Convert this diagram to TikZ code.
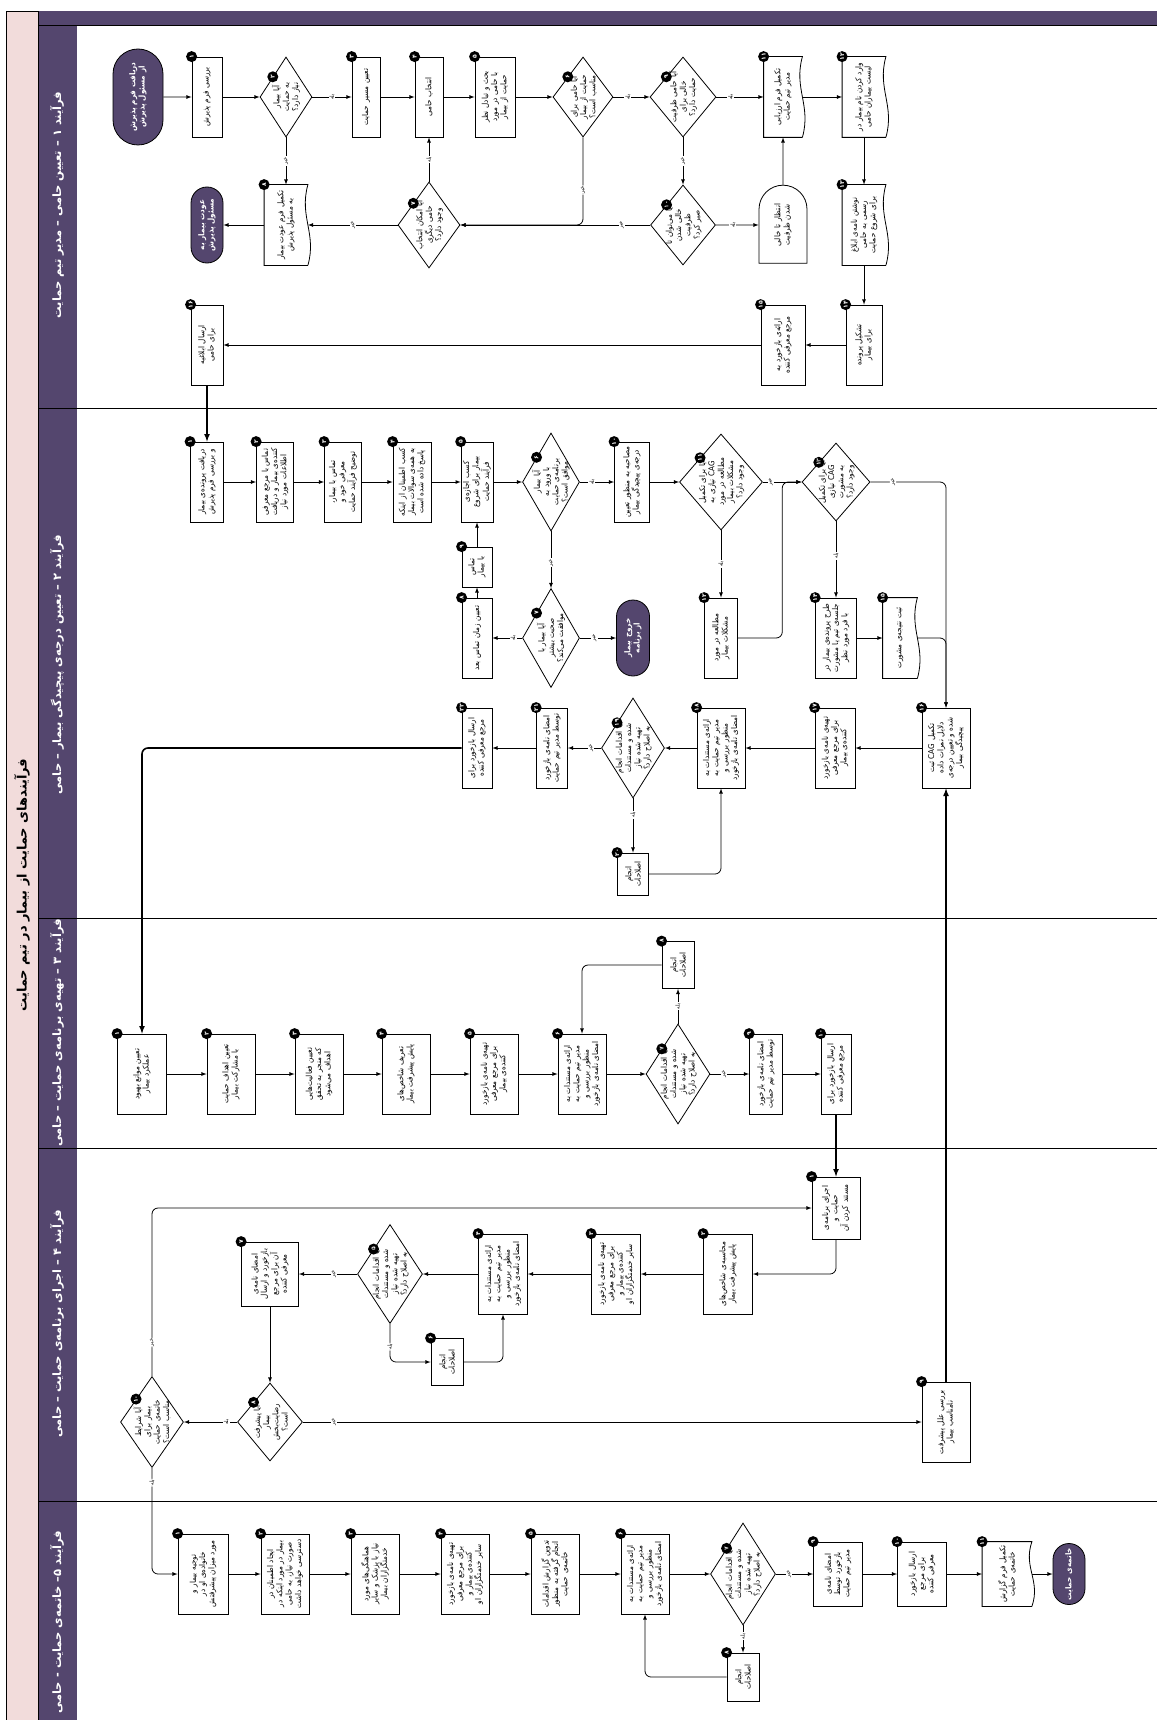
\documentclass[tikz,border=0pt]{standalone}
\usepackage{fontspec}
\newfontfamily\fafont[Script=Arabic,FakeStretch=0.9]{DejaVu Sans}
\newfontfamily\fasar[Script=Arabic]{DejaVu Sans}
\TeXXeTstate=1
\usetikzlibrary{shapes.geometric,shapes.misc,calc}
\definecolor{banafsh}{HTML}{54466E}
\definecolor{surati}{HTML}{F2DCDB}
\newcommand{\fa}[1]{\beginR #1\endR}
\newcommand{\matn}{\fafont\fontsize{8}{9.3}\selectfont}

\begin{document}
\begin{tikzpicture}[x=1pt,y=-1pt,line width=0.8pt,
    jabe/.style={draw,rectangle,rotate=90,align=center,inner sep=2pt,font=\matn,
      text width=72pt,minimum width=80pt},
    pahna/.style={minimum height=#1pt},
    lozi/.style={draw,diamond,rotate=90,inner sep=0pt,minimum width=80pt},
    matnlozi/.style={rotate=90,align=center,inner sep=0pt,font=\matn,text width=52pt},
    sanad/.style={jabe,draw=none,append after command={\pgfextra{\draw
      (\tikzlastnode.south west) -- (\tikzlastnode.north west) -- (\tikzlastnode.north east)
      -- (\tikzlastnode.south east)
      .. controls ($(\tikzlastnode.south east)!.4!(\tikzlastnode.south west)!9pt!-90:(\tikzlastnode.south west)$)
      and ($(\tikzlastnode.south east)!.6!(\tikzlastnode.south west)!9pt!90:(\tikzlastnode.south west)$)
      .. (\tikzlastnode.south west);}}},
    entezar/.style={draw,rounded rectangle,rounded rectangle west arc=none,rotate=90,
      align=center,inner sep=2pt,font=\matn,text width=60pt,minimum width=82pt},
    payan/.style={draw,rounded rectangle,fill=banafsh,text=white,rotate=90,align=center,
      inner sep=2pt,font=\matn\bfseries,text width=66pt,minimum width=80pt},
    shomare/.style={circle,fill=black,text=white,rotate=90,inner sep=0pt,minimum size=11pt,
      anchor=center,font=\fasar\fontsize{6}{6}\selectfont\bfseries},
    pn/.style={->,>=latex},
    koloft/.style={line width=1.6pt},
    javab/.style={fill=white,inner sep=1pt,rotate=90,font=\fafont\fontsize{5.5}{6}\selectfont},
    sarkhat/.style={rotate=90,text=white,font=\fasar\fontsize{11.5}{12}\selectfont\bfseries},
    onvan/.style={rotate=90,font=\fasar\fontsize{13}{14}\selectfont\bfseries}]

  \useasboundingbox (0,0) rectangle (1157,1720);

  % qab va rahroha
  \fill[surati] (6,11) rectangle (38,1720);
  \fill[banafsh] (38,11) rectangle (77,1720);
  \fill[banafsh] (77,11) rectangle (1157,25);
  \draw (6,11) rectangle (38,1720);
  \foreach \y in {25,408,918,1148,1501}
    {\draw (38,\y) -- (1157,\y);}

  \node[onvan] (onvan) at (22,885) {\fa{فرآیندهای حمایت از بیمار در تیم حمایت}};
  \node[sarkhat] (s1) at (57,205) {\fa{فرآیند ۱ – تعیین حامی – مدیر تیم حمایت}};
  \node[sarkhat] (s2) at (57,665) {\fa{فرآیند ۲ – تعیین درجه‌ی پیچیدگی بیمار – حامی}};
  \node[sarkhat] (s3) at (57,1033) {\fa{فرآیند ۳ – تهیه‌ی برنامه‌ی حمایت – حامی}};
  \node[sarkhat] (s4) at (57,1324) {\fa{فرآیند ۴ – اجرای برنامه‌ی حمایت – حامی}};
  \node[sarkhat] (s5) at (57,1622) {\fa{فرآیند ۵– خاتمه‌ی حمایت - حامی}};

  % farayand 1
  \node[payan,minimum width=100pt,pahna=50,text width=76pt] (shoru) at (138,97)
    {\fa{دریافت فرم پذیرش از مسئول پذیرش}};
  \node[jabe,pahna=30,label={[shomare]north east:۱}] (a1) at (207,97) {\fa{بررسی فرم پذیرش}};
  \node[lozi,pahna=52,label={[shomare]north east:۲}] (a2) at (286,97) {};
  \node[matnlozi,text width=46pt] (a2m) at (a2) {\fa{آیا بیمار به حمایت نیاز دارد؟}};
  \node[jabe,pahna=28,label={[shomare]north east:۳}] (a3) at (366,97) {\fa{تعیین مسیر حمایت}};
  \node[jabe,pahna=28,label={[shomare]north east:۴}] (a4) at (429,97) {\fa{انتخاب حامی}};
  \node[jabe,pahna=40,label={[shomare]north east:۵}] (a5) at (495,97)
    {\fa{بحث و تبادل نظر با حامی در مورد حمایت از بیمار}};
  \node[lozi,pahna=60,label={[shomare]north east:۶}] (a6) at (583,97) {};
  \node[matnlozi] (a6m) at (a6) {\fa{آیا حامی برای حمایت از بیمار مناسب است؟}};
  \node[lozi,pahna=66,label={[shomare]north east:۹}] (a9) at (683,97) {};
  \node[matnlozi] (a9m) at (a9) {\fa{آیا حامی ظرفیت خالی برای حمایت دارد؟}};
  \node[sanad,pahna=38,label={[shomare]north east:۱۱}] (a11) at (783,97)
    {\fa{تکمیل فرم ارزیابی مدیر تیم حمایت}};
  \node[sanad,pahna=43,label={[shomare]north east:۱۲}] (a12) at (864,97)
    {\fa{وارد کردن نام بیمار در لیست بیماران حامی}};
  \node[sanad,pahna=43,label={[shomare]north east:۱۳}] (a13) at (864,225)
    {\fa{نوشتن نامه‌ی ابلاغ رسمی به حامی برای شروع حمایت}};
  \node[jabe,pahna=36,label={[shomare]north east:۱۴}] (a14) at (864,345) {\fa{تشکیل پرونده برای بیمار}};
  \node[jabe,pahna=44,label={[shomare]north east:۱۵}] (a15) at (783,345)
    {\fa{ارائه‌ی بازخورد به مرجع معرفی کننده}};
  \node[jabe,pahna=32,label={[shomare]north east:۱۶}] (a16) at (207,345) {\fa{ارسال ابلاغیه برای حامی}};
  \node[lozi,pahna=62,minimum width=86pt,label={[shomare]north east:۷}] (a7) at (429,225) {};
  \node[matnlozi,text width=50pt] (a7m) at (a7) {\fa{آیا امکان انتخاب حامی دیگری وجود دارد؟}};
  \node[sanad,pahna=43,label={[shomare]north east:۸}] (a8) at (286,225)
    {\fa{تکمیل فرم عودت بیمار به مسئول پذیرش}};
  \node[payan,pahna=32] (avdat) at (207,225) {\fa{عودت بیمار به مسئول پذیرش}};
  \node[lozi,pahna=65,label={[shomare]north east:۱۰}] (a10) at (683,225) {};
  \node[matnlozi] (a10m) at (a10) {\fa{آیا می‌توان تا خالی شدن ظرفیت صبر کرد؟}};
  \node[entezar,pahna=48] (montazer) at (783,225) {\fa{انتظار تا خالی شدن ظرفیت}};

  \draw[pn] (shoru) -- (a1);
  \draw[pn] (a1) -- (a2);
  \draw[pn] (a2) -- node[javab]{بله} (a3);
  \draw[pn] (a3) -- (a4);
  \draw[pn] (a4) -- (a5);
  \draw[pn] (a5) -- (a6);
  \draw[pn] (a6) -- node[javab,pos=.4]{بله} (a9);
  \draw[pn] (a9) -- node[javab,pos=.3]{بله} (a11);
  \draw[pn] (a11) -- (a12);
  \draw[pn] (a12) -- (a13);
  \draw[pn] (a13) -- (a14);
  \draw[pn] (a14) -- (a15);
  \draw[pn] (a15) -- (a16);
  \draw[pn] (a2) -- node[javab]{خیر} (a8);
  \draw[pn] (a8) -- (avdat);
  \draw[pn,rounded corners=6pt] (a6.west) |- node[javab,pos=.3]{خیر} (a7.south);
  \draw[pn] (a10) -- node[javab,pos=.15]{خیر} (a7);
  \draw[pn] (a7) -- node[javab]{خیر} (a8);
  \draw[pn] (a7) -- node[javab]{بله} (a4);
  \draw[pn] (a9) -- node[javab]{خیر} (a10);
  \draw[pn] (a10) -- node[javab,pos=.4]{بله} (montazer);
  \draw[pn] (montazer) -- (a11);

  % farayand 2
  \node[jabe,pahna=33,label={[shomare]north east:۱}] (b1) at (207,482)
    {\fa{دریافت پرونده‌ی بیمار و بررسی فرم پذیرش}};
  \node[jabe,pahna=37,label={[shomare]north east:۲}] (b2) at (275,482)
    {\fa{تماس با مرجع معرفی کننده‌ی بیمار و دریافت اطلاعات مورد نیاز}};
  \node[jabe,pahna=37,label={[shomare]north east:۳}] (b3) at (343,482)
    {\fa{تماس با بیمار، معرفی خود و توضیح فرآیند حمایت}};
  \node[jabe,pahna=38,label={[shomare]north east:۴}] (b4) at (412,482)
    {\fa{کسب اطمینان از اینکه به همه‌ی سوالات بیمار پاسخ داده شده است}};
  \node[jabe,pahna=30,label={[shomare]north east:۵}] (b5) at (477,482)
    {\fa{کسب اجازه‌ی بیمار برای شروع فرآیند حمایت}};
  \node[lozi,pahna=57,minimum width=98pt,label={[shomare]north east:۶}] (b6) at (551,482) {};
  \node[matnlozi] (b6m) at (b6) {\fa{آیا بیمار با ورود به برنامه‌ی حمایت موافق است؟}};
  \node[jabe,pahna=35,label={[shomare]north east:۱۰}] (b10) at (632,482)
    {\fa{مصاحبه به منظور تعیین درجه‌ی پیچیدگی بیمار}};
  \node[lozi,pahna=83,minimum width=96pt,label={[shomare]north east:۱۱}] (b11) at (721,482) {};
  \node[matnlozi,text width=58pt] (b11m) at (b11)
    {\fa{آیا برای تکمیل CAG نیازی به مطالعه در مورد مشکلات بیمار وجود دارد؟}};
  \node[lozi,pahna=68,minimum width=78pt,label={[shomare]north east:۱۳}] (b13) at (836,482) {};
  \node[matnlozi,text width=48pt] (b13m) at (b13) {\fa{آیا برای تکمیل CAG نیازی به مشورت وجود دارد؟}};
  \node[jabe,pahna=30,minimum width=40pt,text width=34pt,label={[shomare]north east:۹}] (b9) at (477,567)
    {\fa{تماس با بیمار}};
  \node[jabe,pahna=30,label={[shomare]north east:۸}] (b8) at (477,638) {\fa{تعیین زمان تماس بعد}};
  \node[lozi,pahna=57,minimum width=99pt,label={[shomare]north east:۷}] (b7) at (551,638) {};
  \node[matnlozi] (b7m) at (b7) {\fa{آیا بیمار با صحبت بیشتر موافقت می‌کند؟}};
  \node[payan,pahna=33] (khoruj) at (633,638) {\fa{خروج بیمار از برنامه}};
  \node[jabe,pahna=33,label={[shomare]north east:۱۲}] (b12) at (721,638)
    {\fa{مطالعه در مورد مشکلات بیمار}};
  \node[jabe,pahna=41,label={[shomare]north east:۱۴}] (b14) at (836,638)
    {\fa{طرح پرونده‌ی بیمار در جلسه‌ی تیم یا مشورت با فرد مورد نظر}};
  \node[sanad,pahna=34,label={[shomare]north east:۱۵}] (b15) at (900,638) {\fa{ثبت نتیجه‌ی مشورت}};
  \node[jabe,pahna=48,label={[shomare]north east:۱۶}] (b16) at (946,748)
    {\fa{تکمیل CAG ثبت دلایل نمرات داده شده و تعیین درجه‌ی پیچیدگی بیمار}};
  \node[jabe,pahna=40,label={[shomare]north east:۱۷}] (b17) at (835,748)
    {\fa{تهیه‌ی نامه‌ی بازخورد برای مرجع معرفی کننده‌ی بیمار}};
  \node[jabe,pahna=48,label={[shomare]north east:۱۸}] (b18) at (721,748)
    {\fa{ارائه‌ی مستندات به مدیر تیم حمایت به منظور بررسی و امضای نامه‌ی بازخورد}};
  \node[lozi,pahna=63,minimum width=100pt,label={[shomare]north east:۱۹}] (b19) at (633,748) {};
  \node[matnlozi,text width=60pt] (b19m) at (b19)
    {\fa{آیا اقدامات انجام شده و مستندات تهیه شده نیاز به اصلاح دارد؟}};
  \node[jabe,pahna=31,label={[shomare]north east:۲۱}] (b21) at (552,748)
    {\fa{امضای نامه‌ی بازخورد توسط مدیر تیم حمایت}};
  \node[jabe,pahna=30,label={[shomare]north east:۲۲}] (b22) at (477,748)
    {\fa{ارسال بازخورد برای مرجع معرفی کننده}};
  \node[jabe,pahna=31,minimum width=42pt,text width=36pt,label={[shomare]north east:۲۰}] (b20) at (633,874)
    {\fa{انجام اصلاحات}};

  \draw[pn,koloft] (a16) -- (b1);
  \foreach \a/\b in {b1/b2, b2/b3, b3/b4, b4/b5, b5/b6, b10/b11, b14/b15,
    b16/b17, b17/b18, b18/b19, b21/b22, b8/b9, b9/b5}
    {\draw[pn] (\a) -- (\b);}
  \draw[pn] (b6) -- node[javab,pos=.35]{بله} (b10);
  \draw[pn] (b6) -- node[javab,pos=.55]{خیر} (b7);
  \draw[pn] (b7) -- node[javab,pos=.3]{بله} (b8);
  \draw[pn] (b7) -- node[javab,pos=.4]{خیر} (khoruj);
  \draw[pn] (b11) -- node[javab]{بله} (b12);
  \draw[pn] (b11) -- node[javab,pos=.2]{خیر} (b13);
  \draw[pn,rounded corners=6pt] (b12.south) -| ($(b11.south)!.5!(b13.north)$) -- (b13.north);
  \draw[pn] (b13) -- node[javab,pos=.45]{بله} (b14);
  \draw[pn,rounded corners=6pt] (b13.south) -| node[javab,pos=.15]{خیر} (b16.east);
  \draw[pn,rounded corners=6pt] (b15.south) -| (b16.east);
  \draw[pn] (b19) -- node[javab,pos=.3]{خیر} (b21);
  \draw[pn] (b19) -- node[javab,pos=.3]{بله} (b20);
  \draw[pn,rounded corners=6pt] (b20.south) -| (b18.west);

  % farayand 3
  \node[jabe,pahna=49,label={[shomare]north east:۱}] (c1) at (142,1074)
    {\fa{تعیین موانع بهبود عملکرد بیمار}};
  \node[jabe,pahna=48,label={[shomare]north east:۲}] (c2) at (231,1074)
    {\fa{تعیین اهداف حمایت با مشارکت بیمار}};
  \node[jabe,pahna=48,label={[shomare]north east:۳}] (c3) at (319,1074)
    {\fa{تعیین فعالیت‌هایی که منجر به تحقق اهداف می‌شود}};
  \node[jabe,pahna=48,label={[shomare]north east:۴}] (c4) at (406,1074)
    {\fa{تعریف شاخص‌های پایش پیشرفت بیمار}};
  \node[jabe,pahna=48,label={[shomare]north east:۵}] (c5) at (494,1074)
    {\fa{تهیه‌ی نامه‌ی بازخورد برای مرجع معرفی کننده‌ی بیمار}};
  \node[jabe,pahna=48,label={[shomare]north east:۶}] (c6) at (582,1074)
    {\fa{ارائه‌ی مستندات به مدیر تیم حمایت به منظور بررسی و امضای نامه‌ی بازخورد}};
  \node[lozi,pahna=64,minimum width=100pt,label={[shomare]north east:۷}] (c7) at (678,1074) {};
  \node[matnlozi,text width=60pt] (c7m) at (c7)
    {\fa{آیا اقدامات انجام شده و مستندات تهیه شده نیاز به اصلاح دارد؟}};
  \node[jabe,pahna=32,minimum width=47pt,text width=40pt,label={[shomare]north east:۸}] (c8) at (678,965)
    {\fa{انجام اصلاحات}};
  \node[jabe,pahna=33,label={[shomare]north east:۹}] (c9) at (766,1074)
    {\fa{امضای نامه‌ی بازخورد توسط مدیر تیم حمایت}};
  \node[jabe,pahna=30,label={[shomare]north east:۱۰}] (c10) at (836,1074)
    {\fa{ارسال بازخورد برای مرجع معرفی کننده}};

  \draw[pn,koloft,rounded corners=6pt] (b22.north) -| (c1.east);
  \foreach \a/\b in {c1/c2, c2/c3, c3/c4, c4/c5, c5/c6, c6/c7, c9/c10}
    {\draw[pn] (\a) -- (\b);}
  \draw[pn] (c7) -- node[javab,pos=.35]{خیر} (c9);
  \draw[pn] (c7) -- node[javab]{بله} (c8);
  \draw[pn,rounded corners=6pt] (c8.north) -| (c6.east);

  % farayand 4
  \node[jabe,pahna=48,minimum width=62pt,text width=56pt,label={[shomare]north east:۱}] (d1) at (836,1208)
    {\fa{اجرای برنامه‌ی حمایت و مستند کردن آن}};
  \node[jabe,pahna=49,label={[shomare]north east:۲}] (d2) at (728,1274)
    {\fa{محاسبه‌ی شاخص‌های پایش پیشرفت بیمار}};
  \node[jabe,pahna=49,label={[shomare]north east:۳}] (d3) at (616,1274)
    {\fa{تهیه‌ی نامه‌ی بازخورد برای مرجع معرفی کننده‌ی بیمار و سایر خدمتگزاران او}};
  \node[jabe,pahna=49,label={[shomare]north east:۴}] (d4) at (503,1274)
    {\fa{ارائه‌ی مستندات به مدیر تیم حمایت به منظور بررسی و امضای نامه‌ی بازخورد}};
  \node[lozi,pahna=65,minimum width=99pt,label={[shomare]north east:۵}] (d5) at (390,1274) {};
  \node[matnlozi,text width=60pt] (d5m) at (d5)
    {\fa{آیا اقدامات انجام شده و مستندات تهیه شده نیاز به اصلاح دارد؟}};
  \node[jabe,pahna=32,minimum width=47pt,text width=40pt,label={[shomare]north east:۶}] (d6) at (447,1362)
    {\fa{انجام اصلاحات}};
  \node[jabe,pahna=57,minimum width=64pt,text width=58pt,label={[shomare]north east:۷}] (d7) at (270,1274)
    {\fa{امضای نامه‌ی بازخورد و ارسال آن برای مرجع معرفی کننده}};
  \node[lozi,pahna=65,minimum width=78pt,label={[shomare]north east:۸}] (d8) at (270,1422) {};
  \node[matnlozi,text width=46pt] (d8m) at (d8) {\fa{آیا پیشرفت بیمار رضایت‌بخش است؟}};
  \node[lozi,pahna=63,minimum width=91pt,label={[shomare]north east:۱۰}] (d10) at (152,1422) {};
  \node[matnlozi] (d10m) at (d10) {\fa{آیا شرایط بیمار برای خاتمه‌ی حمایت مناسب است؟}};
  \node[jabe,pahna=48,label={[shomare]north east:۹}] (d9) at (946,1422)
    {\fa{بررسی علل پیشرفت نامناسب بیمار}};

  \draw[pn,koloft] (c10) -- (d1);
  \draw[pn,rounded corners=6pt] (d1.west) |- (d2.south);
  \foreach \a/\b in {d2/d3, d3/d4, d4/d5, d7/d8}
    {\draw[pn] (\a) -- (\b);}
  \draw[pn] (d5) -- node[javab,pos=.4]{خیر} (d7);
  \draw[pn,rounded corners=6pt] (d5.west) |- node[javab,pos=.3]{بله} (d6.north);
  \draw[pn,rounded corners=6pt] (d6.south) -| (d4.west);
  \draw[pn] (d8) -- node[javab,pos=.2]{بله} (d10);
  \draw[pn] (d8) -- node[javab,pos=.05]{خیر} (d9);
  \draw[pn,rounded corners=6pt] (d10.east) |- node[javab,pos=.1]{خیر} (d1.north);
  \draw[pn,koloft] (d9) -- (b16);

  % farayand 5
  \node[jabe,pahna=50,label={[shomare]north east:۱}] (e1) at (203,1574)
    {\fa{توجیه بیمار و خانواده‌ی او در مورد میزان پیشرفتش}};
  \node[jabe,pahna=48,label={[shomare]north east:۲}] (e2) at (285,1574)
    {\fa{ایجاد اطمینان در بیمار در مورد اینکه در صورت نیاز، به حامی دسترسی خواهد داشت}};
  \node[jabe,pahna=48,label={[shomare]north east:۳}] (e3) at (375,1574)
    {\fa{هماهنگی‌های مورد نیاز با پزشک و سایر خدمتگزاران بیمار}};
  \node[jabe,pahna=48,label={[shomare]north east:۴}] (e4) at (465,1574)
    {\fa{تهیه‌ی نامه‌ی بازخورد برای مرجع معرفی کننده‌ی بیمار و سایر خدمتگزاران او}};
  \node[jabe,pahna=48,label={[shomare]north east:۵}] (e5) at (555,1574)
    {\fa{تدوین گزارش اقدامات انجام گرفته به منظور خاتمه‌ی حمایت}};
  \node[jabe,pahna=48,label={[shomare]north east:۶}] (e6) at (645,1574)
    {\fa{ارائه‌ی مستندات به مدیر تیم حمایت به منظور بررسی و امضای نامه‌ی بازخورد}};
  \node[lozi,pahna=65,minimum width=102pt,label={[shomare]north east:۷}] (e7) at (743,1574) {};
  \node[matnlozi,text width=60pt] (e7m) at (e7)
    {\fa{آیا اقدامات انجام شده و مستندات تهیه شده نیاز به اصلاح دارد؟}};
  \node[jabe,pahna=32,minimum width=48pt,text width=40pt,label={[shomare]north east:۸}] (e8) at (743,1677)
    {\fa{انجام اصلاحات}};
  \node[jabe,pahna=49,minimum width=64pt,text width=58pt,label={[shomare]north east:۹}] (e9) at (838,1574)
    {\fa{امضای نامه‌ی بازخورد توسط مدیر تیم حمایت}};
  \node[jabe,pahna=49,minimum width=64pt,text width=58pt,label={[shomare]north east:۱۰}] (e10) at (922,1574)
    {\fa{ارسال بازخورد برای مرجع معرفی کننده}};
  \node[sanad,pahna=49,minimum width=64pt,text width=58pt,label={[shomare]north east:۱۱}] (e11) at (1007,1574)
    {\fa{تکمیل فرم گزارش خاتمه‌ی حمایت}};
  \node[payan,pahna=32,minimum width=65pt,text width=54pt] (khatame) at (1069,1574) {\fa{خاتمه‌ی حمایت}};

  \draw[pn,rounded corners=6pt] (d10.west) |- node[javab,pos=.07]{بله} (e1.north);
  \foreach \a/\b in {e1/e2, e2/e3, e3/e4, e4/e5, e5/e6, e6/e7, e9/e10, e10/e11, e11/khatame}
    {\draw[pn] (\a) -- (\b);}
  \draw[pn] (e7) -- node[javab,pos=.35]{خیر} (e9);
  \draw[pn] (e7) -- node[javab,pos=.4]{بله} (e8);
  \draw[pn,rounded corners=6pt] (e8.north) -| (e6.west);
\end{tikzpicture}
\end{document}
